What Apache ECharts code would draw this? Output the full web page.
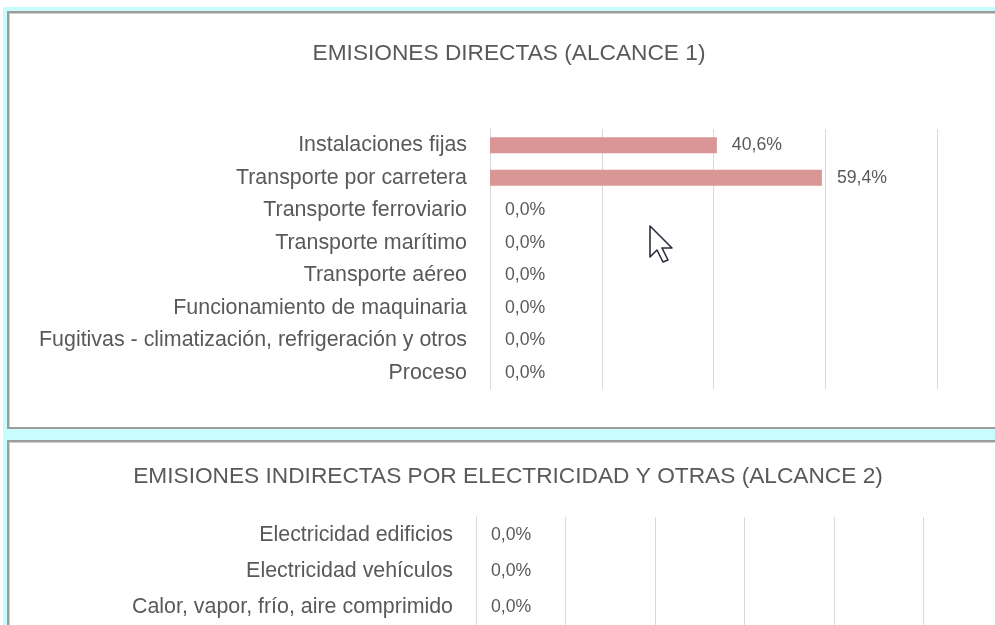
<!DOCTYPE html>
<html>
<head>
<meta charset="utf-8">
<script src="https://cdn.jsdelivr.net/npm/echarts@6/dist/echarts.min.js"></script>
<style>
  html, body { margin: 0; padding: 0; width: 995px; height: 625px; overflow: hidden; background: #fff; }
  .band { position: absolute; left: 3px; top: 7px; width: 1200px; height: 800px; background: #c9fdfd; }
  .box { position: absolute; left: 7px; width: 1003px; background: #fff; border: 2px solid #9c9c9c; box-shadow: inset 1px 1px 0 #cfcfcf; box-sizing: border-box; }
  #chart { position: absolute; left: 0; top: 0; width: 1100px; height: 700px; }
</style>
</head>
<body>
<div class="band"></div>
<div class="box" style="top: 11px; height: 418px;"></div>
<div class="box" style="top: 440px; height: 300px;"></div>
<div id="chart"></div>
<script>
const TITLE_1 = "EMISIONES DIRECTAS (ALCANCE 1)";
const TITLE_2 = "EMISIONES INDIRECTAS POR ELECTRICIDAD Y OTRAS (ALCANCE 2)";

const SCOPE1_CATEGORIES = [
  "Instalaciones fijas",
  "Transporte por carretera",
  "Transporte ferroviario",
  "Transporte marítimo",
  "Transporte aéreo",
  "Funcionamiento de maquinaria",
  "Fugitivas - climatización, refrigeración y otros",
  "Proceso"
];
const SCOPE1_VALUES = [0.406, 0.594, 0, 0, 0, 0, 0, 0];

const SCOPE2_CATEGORIES = [
  "Electricidad edificios",
  "Electricidad vehículos",
  "Calor, vapor, frío, aire comprimido"
];
const SCOPE2_VALUES = [0, 0, 0];

const TEXT = "#595959";
const GRID_LINE = "#d9d9d9";
const BAR = "#d99694";

function formatPct(value) {
  return `${(value * 100).toFixed(1).replace(".", ",")}%`;
}

function valueAxis(gridIndex, max) {
  return {
    type: "value",
    gridIndex,
    min: 0,
    max,
    interval: 0.2,
    axisLabel: { show: false },
    axisLine: { show: false },
    axisTick: { show: false },
    splitLine: { lineStyle: { color: GRID_LINE, width: 1 } }
  };
}

function categoryAxis(gridIndex, data) {
  return {
    type: "category",
    gridIndex,
    inverse: true,
    data,
    axisTick: { show: false },
    axisLine: { lineStyle: { color: GRID_LINE, width: 1 } },
    axisLabel: { color: TEXT, fontSize: 21.4, margin: 23, fontFamily: "Liberation Sans" }
  };
}

function barSeries(index, values) {
  return {
    type: "bar",
    xAxisIndex: index,
    yAxisIndex: index,
    data: values,
    barWidth: 16,
    silent: true,
    itemStyle: { color: BAR },
    label: {
      show: true,
      position: "right",
      distance: 15,
      color: TEXT,
      fontSize: 17.7,
      fontFamily: "Liberation Sans",
      formatter: (p) => formatPct(p.value)
    }
  };
}

const chart = echarts.init(document.getElementById("chart"), null, { renderer: "canvas" });

chart.setOption({
  backgroundColor: "transparent",
  animation: false,
  title: [
    {
      text: TITLE_1,
      left: 504,
      top: 37,
      textAlign: "center",
      textStyle: { color: TEXT, fontSize: 22.7, fontWeight: "normal", fontFamily: "Liberation Sans" }
    },
    {
      text: TITLE_2,
      left: 503,
      top: 460,
      textAlign: "center",
      textStyle: { color: TEXT, fontSize: 22.7, fontWeight: "normal", fontFamily: "Liberation Sans" }
    }
  ],
  grid: [
    { left: 490, top: 129, width: 558.75, height: 260 },
    { left: 476, top: 517, width: 537, height: 108 }
  ],
  xAxis: [valueAxis(0, 1), valueAxis(1, 1.2)],
  yAxis: [categoryAxis(0, SCOPE1_CATEGORIES), categoryAxis(1, SCOPE2_CATEGORIES)],
  series: [barSeries(0, SCOPE1_VALUES), barSeries(1, SCOPE2_VALUES)],
  graphic: [
    {
      // mouse pointer visible in the screenshot
      type: "polygon",
      x: 650,
      y: 226,
      shape: { points: [[0, 0], [0, 31], [7, 24], [13, 36], [18, 34], [12, 22], [22, 22]] },
      style: { fill: "#fff", stroke: "#2b2d3a", lineWidth: 1.6, lineJoin: "round" },
      silent: true
    }
  ]
});
</script>
</body>
</html>
